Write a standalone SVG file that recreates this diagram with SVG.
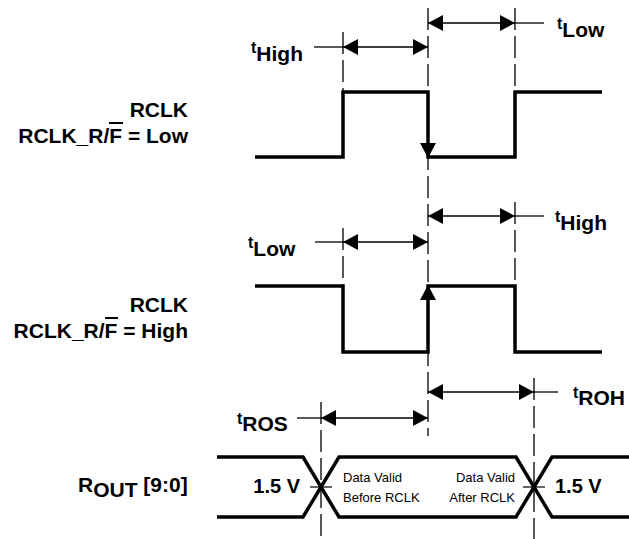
<svg xmlns="http://www.w3.org/2000/svg" width="629" height="539" viewBox="0 0 629 539">
<style>
.lbl{font-family:"Liberation Sans",Arial,sans-serif;font-weight:bold;font-size:21px;fill:#000}
.ts{font-size:16px}
.dv{font-family:"Liberation Sans",Arial,sans-serif;font-size:13px;fill:#000}
.v{font-family:"Liberation Sans",Arial,sans-serif;font-weight:bold;font-size:20px;fill:#000}
.dash{stroke:#000;stroke-width:1.3;stroke-dasharray:22 6;fill:none}
.wave{stroke:#000;stroke-width:3.5;fill:none;stroke-linejoin:miter}
.dim{stroke:#000;stroke-width:1.3;fill:none;marker-start:url(#ah);marker-end:url(#ah)}
.lead{stroke:#000;stroke-width:1.3}
.tick{stroke:#000;stroke-width:1.2}
.edge{stroke:#000;stroke-width:1.5;marker-end:url(#ah)}
</style>
<defs>
<marker id="ah" viewBox="0 0 15 16" refX="15" refY="8" markerWidth="15" markerHeight="16" markerUnits="userSpaceOnUse" orient="auto-start-reverse">
<path d="M0,0 L15,8 L0,16 z" fill="#000"/>
</marker>
</defs>

<g id="guides">
<line class="dash" x1="343" y1="32" x2="343" y2="92"/>
<line class="dash" x1="343" y1="228" x2="343" y2="286"/>
<line class="dash" x1="428" y1="8" x2="428" y2="436"/>
<line class="dash" x1="515" y1="8" x2="515" y2="92"/>
<line class="dash" x1="515" y1="202" x2="515" y2="286"/>
<line class="dash" x1="321" y1="402" x2="321" y2="539"/>
<line class="dash" x1="534" y1="378" x2="534" y2="539"/>
</g>

<g id="rclk-low-label">
<text class="lbl" x="188" y="117" text-anchor="end">RCLK</text>
<text class="lbl" x="188" y="143" text-anchor="end">RCLK_R/F = Low</text>
<line x1="109" y1="123" x2="123" y2="123" stroke="#000" stroke-width="2"/>
</g>
<g id="rclk-low-wave">
<path class="wave" d="M255,157 H343 V92 H428 V157 H515 V92 H602"/>
<line class="edge" x1="428" y1="130" x2="428" y2="158"/>
</g>

<g id="rclk-high-label">
<text class="lbl" x="188" y="312" text-anchor="end">RCLK</text>
<text class="lbl" x="188" y="338" text-anchor="end">RCLK_R/F = High</text>
<line x1="105" y1="318" x2="118" y2="318" stroke="#000" stroke-width="2"/>
</g>
<g id="rclk-high-wave">
<path class="wave" d="M255,286 H343 V352 H428 V286 H515 V352 H602"/>
<line class="edge" x1="428" y1="315" x2="428" y2="285"/>
</g>

<g id="rout-label">
<text class="lbl" x="78" y="492">R<tspan dy="5">OUT</tspan><tspan dy="-5"> [9:0]</tspan></text>
</g>
<g id="rout-bus">
<path class="wave" d="M217,457 H303 L339,517 H516 L552,457 H629"/>
<path class="wave" d="M217,517 H303 L339,457 H516 L552,517 H629"/>
<line class="tick" x1="310" y1="487" x2="332" y2="487"/>
<line class="tick" x1="523" y1="487" x2="545" y2="487"/>
<text class="v" x="300" y="493" text-anchor="end">1.5 V</text>
<text class="v" x="555" y="493">1.5 V</text>
<text class="dv" x="343" y="482">Data Valid</text>
<text class="dv" x="343" y="502">Before RCLK</text>
<text class="dv" x="515" y="482" text-anchor="end">Data Valid</text>
<text class="dv" x="515" y="502" text-anchor="end">After RCLK</text>
</g>

<g id="t-high-1"><text class="lbl" x="251" y="53"><tspan class="ts">t</tspan><tspan dy="8">High</tspan></text></g>
<g id="t-low-1"><text class="lbl" x="557" y="29"><tspan class="ts">t</tspan><tspan dy="8">Low</tspan></text></g>
<g id="t-low-2"><text class="lbl" x="248" y="248"><tspan class="ts">t</tspan><tspan dy="8">Low</tspan></text></g>
<g id="t-high-2"><text class="lbl" x="555" y="222"><tspan class="ts">t</tspan><tspan dy="8">High</tspan></text></g>
<g id="t-ros"><text class="lbl" x="237" y="424"><tspan class="ts">t</tspan><tspan dy="7">ROS</tspan></text></g>
<g id="t-roh"><text class="lbl" x="573" y="398"><tspan class="ts">t</tspan><tspan dy="7">ROH</tspan></text></g>

<g id="connectors">
<line class="dim" x1="343" y1="47" x2="428" y2="47"/>
<line class="lead" x1="314" y1="47" x2="343" y2="47"/>
<line class="dim" x1="428" y1="23" x2="515" y2="23"/>
<line class="lead" x1="515" y1="23" x2="544" y2="23"/>
<line class="dim" x1="343" y1="242" x2="428" y2="242"/>
<line class="lead" x1="315" y1="242" x2="343" y2="242"/>
<line class="dim" x1="428" y1="216" x2="515" y2="216"/>
<line class="lead" x1="515" y1="216" x2="544" y2="216"/>
<line class="dim" x1="321" y1="418" x2="428" y2="418"/>
<line class="lead" x1="297" y1="418" x2="321" y2="418"/>
<line class="dim" x1="428" y1="392" x2="534" y2="392"/>
<line class="lead" x1="534" y1="392" x2="558" y2="392"/>
</g>
</svg>
